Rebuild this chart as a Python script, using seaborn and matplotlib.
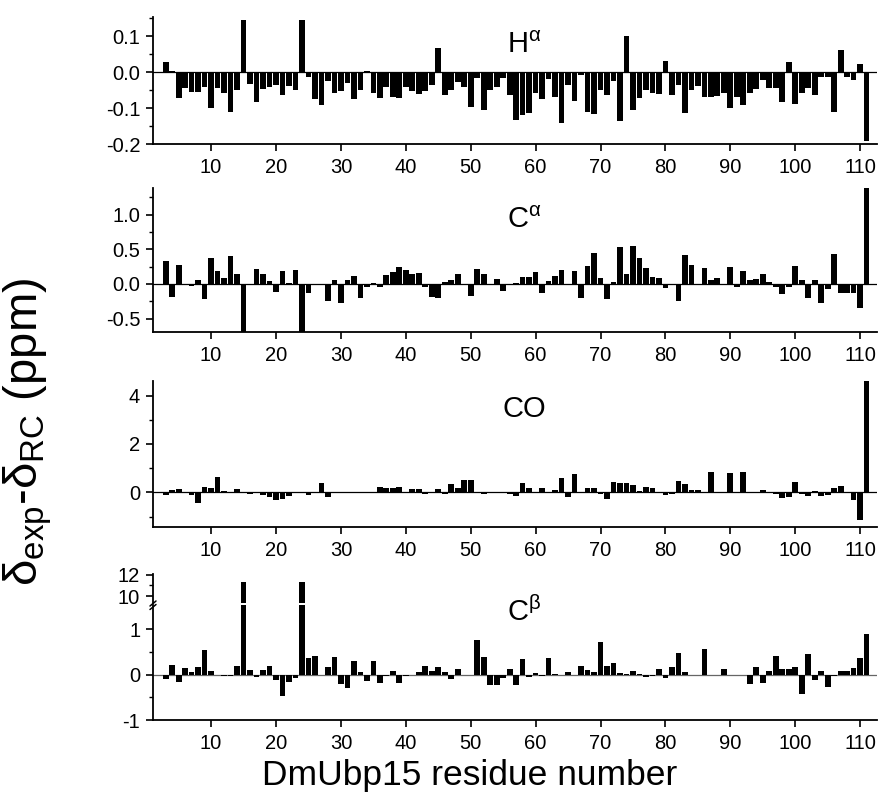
import numpy as np
import matplotlib
matplotlib.use("Agg")
import matplotlib.pyplot as plt
import seaborn as sns

# residue numbers (x categories)
residues = list(range(3, 112))

h_alpha = [0.03, 0.003, -0.071, -0.044, -0.055, -0.055, -0.04, -0.10, -0.044, -0.057,
           -0.11, -0.05, 0.146, -0.032, -0.081, -0.045, -0.041, -0.035, -0.063, -0.037,
           -0.048, 0.146, -0.014, -0.074, -0.092, -0.025, -0.056, -0.053, -0.03, -0.074,
           -0.048, 0.003, -0.056, -0.07, -0.04, -0.069, -0.072, -0.04, -0.053, -0.06,
           -0.053, -0.034, 0.068, -0.063, -0.05, -0.028, -0.04, -0.096, -0.016, -0.105,
           -0.05, -0.04, -0.016, -0.063, -0.133, -0.118, -0.113, -0.056, -0.074, -0.019,
           -0.069, -0.141, -0.034, -0.079, -0.007, -0.111, -0.116, -0.048, -0.062, -0.025,
           -0.134, 0.102, -0.105, -0.071, -0.048, -0.057, -0.06, 0.032, -0.064, -0.034,
           -0.114, -0.048, -0.039, -0.069, -0.069, -0.065, -0.057, -0.1, -0.069, -0.092,
           -0.056, -0.046, -0.02, -0.044, -0.044, -0.081, 0.028, -0.088, -0.057, -0.044,
           -0.064, -0.014, -0.014, -0.11, 0.063, -0.014, -0.02, 0.024, -0.19]

c_alpha = [0.33, -0.19, 0.28, 0.0, -0.03, 0.06, -0.22, 0.38, 0.18, 0.08,
           0.40, 0.15, -0.75, 0.0, 0.21, 0.14, 0.04, -0.12, 0.18, 0.02,
           0.2, -0.75, -0.13, -0.01, 0.0, -0.25, 0.06, -0.28, 0.06, 0.11,
           -0.21, -0.04, 0.02, -0.05, 0.13, 0.17, 0.24, 0.2, 0.15, 0.16,
           -0.05, -0.19, -0.21, 0.03, 0.05, 0.14, 0.0, -0.17, 0.22, 0.14,
           0.0, 0.07, -0.1, 0.0, 0.02, 0.1, 0.1, 0.17, -0.13, 0.04,
           0.11, 0.2, 0.0, 0.19, -0.21, 0.26, 0.45, 0.08, -0.22, 0.03,
           0.53, 0.14, 0.55, 0.38, 0.23, 0.1, 0.08, -0.06, -0.01, -0.25,
           0.42, 0.28, 0.0, 0.23, 0.06, 0.09, 0.0, 0.25, -0.05, 0.18,
           0.05, 0.07, 0.15, 0.03, -0.05, -0.14, -0.05, 0.26, 0.06, -0.21,
           0.05, -0.27, -0.08, 0.43, -0.13, -0.13, -0.13, -0.35, 1.38]

co = [-0.1, 0.1, 0.12, 0.0, -0.1, -0.45, 0.23, 0.17, 0.65, 0.05,
      0.0, 0.14, 0.0, -0.05, 0.02, -0.1, -0.2, -0.3, -0.27, -0.14,
      0.02, 0.0, -0.1, 0.0, 0.37, -0.18, 0.0, 0.03, 0.02, 0.0,
      0.02, 0.02, 0.0, 0.23, 0.17, 0.19, 0.2, 0.02, 0.12, 0.12,
      -0.08, 0.02, 0.14, -0.05, 0.36, 0.17, 0.51, 0.52, 0.0, -0.08,
      -0.03, -0.03, -0.03, -0.07, -0.14, 0.4, 0.17, 0.0, 0.19, 0.0,
      0.1, 0.61, -0.18, 0.77, 0.0, 0.17, 0.17, -0.08, -0.27, 0.43,
      0.4, 0.37, 0.3, 0.07, 0.2, 0.17, 0.0, -0.1, -0.08, 0.45,
      0.33, 0.1, 0.1, 0.0, 0.85, 0.0, 0.03, 0.81, 0.02, 0.84,
      0.0, 0.03, 0.1, 0.03, -0.08, -0.25, -0.2, 0.43, -0.07, -0.14,
      0.07, -0.15, -0.11, 0.17, 0.26, 0.03, -0.3, -1.15, 4.58]

c_beta = [-0.1, 0.22, -0.17, 0.15, 0.07, 0.18, 0.55, 0.09, 0.0, -0.03,
          -0.03, 0.2, 11.3, 0.11, -0.05, 0.1, 0.19, -0.12, -0.47, -0.15,
          -0.07, 11.3, 0.37, 0.42, 0.0, 0.18, 0.39, -0.21, -0.29, 0.31,
          0.06, -0.14, 0.3, -0.18, -0.03, 0.09, -0.18, -0.02, 0.0, 0.06,
          0.2, 0.09, 0.17, 0.06, -0.09, 0.13, 0.0, 0.0, 0.77, 0.4,
          -0.22, -0.22, -0.07, 0.13, -0.22, 0.34, -0.05, 0.04, -0.02, 0.37,
          0.01, 0.0, 0.07, 0.0, 0.2, 0.11, 0.06, 0.73, 0.19, 0.27,
          0.04, 0.02, 0.08, 0.01, -0.05, -0.03, 0.13, -0.07, 0.17, 0.48,
          0.06, 0.0, 0.0, 0.56, 0.0, 0.0, 0.13, 0.0, -0.01, 0.0,
          -0.21, 0.18, -0.18, 0.09, 0.42, 0.12, 0.12, 0.18, -0.42, 0.45,
          -0.11, 0.09, -0.28, -0.02, 0.09, 0.09, 0.15, 0.36, 0.91]

for s in (h_alpha, c_alpha, co, c_beta):
    assert len(s) == len(residues), len(s)

sns.set_style("ticks")
plt.rcParams["font.family"] = ["Liberation Sans", "DejaVu Sans"]
plt.rcParams["mathtext.fontset"] = "custom"
plt.rcParams["mathtext.rm"] = "Liberation Sans"
plt.rcParams["mathtext.it"] = "Liberation Sans"
plt.rcParams["mathtext.default"] = "regular"
plt.rcParams["axes.unicode_minus"] = False
for k in ("text.color", "axes.labelcolor", "xtick.color", "ytick.color", "axes.edgecolor"):
    plt.rcParams[k] = "black"

W, H = 887, 797
fig = plt.figure(figsize=(W / 100, H / 100), dpi=100)


def add_axes(top, bottom, left=152.7, right=877):
    return fig.add_axes([left / W, 1 - bottom / H, (right - left) / W, (bottom - top) / H])


def style(ax, ylim, major, minor, fmt=None, xaxis=True):
    ax.set_xlim(1, 112.6)
    ax.set_ylim(*ylim)
    ax.set_yticks(major)
    if fmt:
        ax.set_yticklabels([fmt.format(v) for v in major])
    ax.set_yticks(minor, minor=True)
    sns.despine(ax=ax)
    for sp in ("left", "bottom"):
        ax.spines[sp].set_linewidth(1.3)
    ax.tick_params(axis="both", which="major", direction="out", length=5, width=1.2,
                   labelsize=14.5, pad=4)
    ax.tick_params(axis="y", which="minor", direction="out", length=3, width=1)
    ax.set_xlabel("")
    ax.set_ylabel("")
    if xaxis:
        ax.set_xticks(range(10, 111, 10))
        ax.tick_params(axis="x", which="major", pad=5)
    ax.axhline(0, color="black", lw=0.9, zorder=0.5)


def bars(ax, vals):
    sns.barplot(x=residues, y=vals, native_scale=True, color="black", width=0.88,
                linewidth=0, saturation=1, ax=ax)


ax1 = add_axes(16.7, 144.3)
bars(ax1, h_alpha)
style(ax1, (-0.2, 0.155), [-0.2, -0.1, 0.0, 0.1], np.arange(-0.15, 0.16, 0.05), "{:.1f}")

ax2 = add_axes(187.7, 331.7)
bars(ax2, c_alpha)
style(ax2, (-0.69, 1.39), [-0.5, 0.0, 0.5, 1.0], [-0.25, 0.25, 0.75, 1.25], "{:.1f}")

ax3 = add_axes(381, 526.7)
bars(ax3, co)
style(ax3, (-1.42, 4.6), [0, 2, 4], [-1, 1, 3])

ax4u = add_axes(574.3, 602.5)
bars(ax4u, c_beta)
style(ax4u, (9.4, 12.05), [10, 12], [11], xaxis=False)
ax4u.spines["bottom"].set_visible(False)
ax4u.set_xticks([])
ax4u.lines[-1].set_visible(False)

ax4 = add_axes(605, 720)
bars(ax4, c_beta)
style(ax4, (-1, 1.54), [-1, 0, 1], [-0.5, 0.5])
ax4.lines[-1].set_color("#666666")

# break marks on the left spine
for dy in (0.0, 3.5):
    y0 = 1 - (603.5 + dy) / H
    fig.add_artist(plt.Line2D([150 / W, 156 / W], [y0 - 2.5 / H, y0 + 2.5 / H],
                              color="black", lw=1.1))

# panel labels
labels = [(r"H$^{\alpha}$", 45), (r"C$^{\alpha}$", 220), ("CO", 409), (r"C$^{\beta}$", 612)]
for txt, yp in labels:
    fig.text(524 / W, 1 - yp / H, txt, fontsize=21, ha="center", va="center")

fig.text(28 / W, 1 - 432 / H, r"δ$_{exp}$-δ$_{RC}$ (ppm)", fontsize=34,
         rotation=90, ha="center", va="center")
fig.text(470 / W, 1 - 776 / H, "DmUbp15 residue number", fontsize=25.5,
         ha="center", va="center")

fig.savefig("out.png", dpi=100)
